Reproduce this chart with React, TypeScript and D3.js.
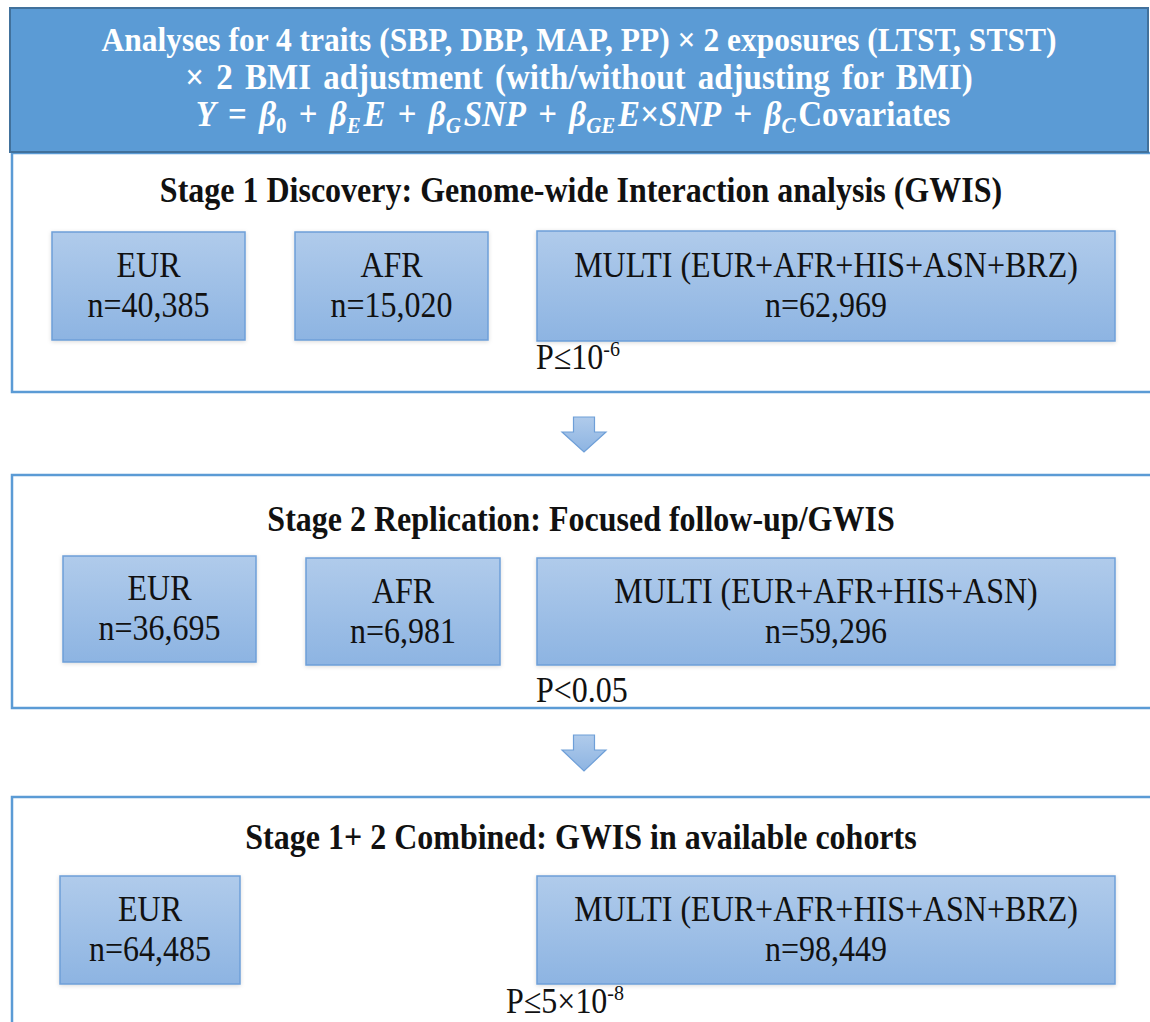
import React from 'react';
import * as d3 from 'd3';

// header text
const headerLine1 = 'Analyses for 4 traits (SBP, DBP, MAP, PP) × 2 exposures (LTST, STST)';
const headerLine2 = '× 2 BMI adjustment (with/without adjusting for BMI)';

// stage titles
const stageTitles = [
  'Stage 1 Discovery: Genome-wide Interaction analysis (GWIS)',
  'Stage 2 Replication: Focused follow-up/GWIS',
  'Stage 1+ 2 Combined: GWIS in available cohorts',
];

// ancestry groups and sample sizes per stage
const stage1Groups = ['EUR', 'AFR', 'MULTI (EUR+AFR+HIS+ASN+BRZ)'];
const stage1N = [40385, 15020, 62969];
const stage2Groups = ['EUR', 'AFR', 'MULTI (EUR+AFR+HIS+ASN)'];
const stage2N = [36695, 6981, 59296];
const stage3Groups = ['EUR', 'MULTI (EUR+AFR+HIS+ASN+BRZ)'];
const stage3N = [64485, 98449];

// significance thresholds
const thresholdBase = ['P≤10', 'P<0.05', 'P≤5×10'];
const thresholdExp = ['-6', '', '-8'];

const W = 1150;
const H = 1022;
const fmt = d3.format(',');
const serif = "'Liberation Serif', 'Times New Roman', serif";
const SY = 1.1; // glyphs in the figure are a bit taller than Times

// layout
const header = { x: 10, y: 8, w: 1138, h: 144 };
const headerBaselines = [51, 89, 126];
const frames = [
  { y: 153, h: 239 },
  { y: 475, h: 233 },
  { y: 797, h: 280 },
];
const titleBaseline = [202, 531, 849];
const boxLayout = [
  [{ x: 52, y: 232, w: 193, h: 108 }, { x: 295, y: 232, w: 193, h: 108 }, { x: 537, y: 231, w: 578, h: 110 }],
  [{ x: 63, y: 556, w: 193, h: 106 }, { x: 306, y: 558, w: 194, h: 107 }, { x: 537, y: 558, w: 578, h: 107 }],
  [{ x: 60, y: 876, w: 180, h: 108 }, { x: 537, y: 876, w: 578, h: 108 }],
];
const thresholdPos = [
  { x: 536, y: 369 },
  { x: 536, y: 702 },
  { x: 506, y: 1013 },
];
const arrows = [
  { top: 417, tip: 452 },
  { top: 735, tip: 771 },
];
const arrowX = 584;

const stages = [
  { groups: stage1Groups, n: stage1N },
  { groups: stage2Groups, n: stage2N },
  { groups: stage3Groups, n: stage3N },
];

const arrowPath = (top: number, tip: number) => {
  const p = d3.path();
  const shaft = 10.5;
  const head = 22;
  const headY = top + 15;
  p.moveTo(arrowX - shaft, top);
  p.lineTo(arrowX + shaft, top);
  p.lineTo(arrowX + shaft, headY);
  p.lineTo(arrowX + head, headY);
  p.lineTo(arrowX, tip);
  p.lineTo(arrowX - head, headY);
  p.lineTo(arrowX - shaft, headY);
  p.closePath();
  return p.toString();
};

// text placed at (x, y) and stretched vertically from its baseline
const T = ({ x, y, children, ...rest }: any) => (
  <text transform={`translate(${x},${y}) scale(1,${SY})`} {...rest}>
    {children}
  </text>
);

const Sub = ({ children }: { children: string }) => (
  <>
    <tspan fontSize={21} dy={6} fontStyle="italic">{children}</tspan>
    <tspan dy={-6}>{'\u200A'}</tspan>
  </>
);

const App = () => {
  const cx = header.x + header.w / 2;
  return (
    <svg
      width={W}
      height={H}
      viewBox={`0 0 ${W} ${H}`}
      style={{ position: 'absolute', left: 0, top: 0, background: '#fff' }}
    >
      <defs>
        <linearGradient id="boxGrad" x1="0" y1="0" x2="0" y2="1">
          <stop offset="0%" stopColor="#B0CBEB" />
          <stop offset="100%" stopColor="#8DB4E2" />
        </linearGradient>
        <filter id="soft" x="-10%" y="-10%" width="120%" height="130%">
          <feDropShadow dx="0" dy="1" stdDeviation="2" floodColor="#000" floodOpacity="0.15" />
        </filter>
      </defs>

      {/* stage frames (right side runs off the figure) */}
      {frames.map((f, i) => (
        <rect key={`f${i}`} x={12} y={f.y} width={1150} height={f.h} fill="none" stroke="#5B9BD5" strokeWidth={2.5} />
      ))}

      {/* header */}
      <rect x={header.x} y={header.y} width={header.w} height={header.h} fill="#5B9BD5" stroke="#41719C" strokeWidth={2} />
      <g fill="#fff" fontFamily={serif} fontWeight="bold" textAnchor="middle">
        <T x={cx} y={headerBaselines[0]} fontSize={31.5}>{headerLine1}</T>
        <T x={cx} y={headerBaselines[1]} fontSize={33} wordSpacing={4}>{headerLine2}</T>
        <T x={cx - 6} y={headerBaselines[2]} fontSize={33} wordSpacing={4}>
          <tspan fontStyle="italic">Y</tspan>
          <tspan> = </tspan>
          <tspan fontStyle="italic">β</tspan>
          <tspan fontSize={21} dy={6}>0</tspan>
          <tspan dy={-6}> + </tspan>
          <tspan fontStyle="italic">β</tspan>
          <Sub>E</Sub>
          <tspan fontStyle="italic">E</tspan>
          <tspan> + </tspan>
          <tspan fontStyle="italic">β</tspan>
          <Sub>G</Sub>
          <tspan fontStyle="italic">SNP</tspan>
          <tspan> + </tspan>
          <tspan fontStyle="italic">β</tspan>
          <Sub>GE</Sub>
          <tspan fontStyle="italic">E</tspan>
          <tspan>×</tspan>
          <tspan fontStyle="italic">SNP</tspan>
          <tspan> + </tspan>
          <tspan fontStyle="italic">β</tspan>
          <Sub>C</Sub>
          <tspan>Covariates</tspan>
        </T>
      </g>

      {/* arrows */}
      {arrows.map((a, i) => (
        <path key={`a${i}`} d={arrowPath(a.top, a.tip)} fill="url(#boxGrad)" stroke="#6E9FD8" strokeWidth={1.2} />
      ))}

      {/* stage content */}
      {stages.map((s, i) => (
        <g key={`s${i}`} fontFamily={serif} fill="#111">
          <T x={581} y={titleBaseline[i]} textAnchor="middle" fontWeight="bold" fontSize={32}>
            {stageTitles[i]}
          </T>
          {s.groups.map((g, j) => {
            const b = boxLayout[i][j];
            const bx = b.x + b.w / 2;
            const cy = b.y + b.h / 2;
            return (
              <g key={g}>
                <rect x={b.x} y={b.y} width={b.w} height={b.h} fill="url(#boxGrad)" stroke="#6E9FD8" strokeWidth={1.5} filter="url(#soft)" />
                <T x={bx} y={cy - 9} textAnchor="middle" fontSize={32}>{g}</T>
                <T x={bx} y={cy + 31} textAnchor="middle" fontSize={32}>{`n=${fmt(s.n[j])}`}</T>
              </g>
            );
          })}
          <T x={thresholdPos[i].x} y={thresholdPos[i].y} fontSize={32}>
            {thresholdBase[i]}
            {thresholdExp[i] && (
              <tspan fontSize={20} dy={-12}>{thresholdExp[i]}</tspan>
            )}
          </T>
        </g>
      ))}
    </svg>
  );
};

export default App;
